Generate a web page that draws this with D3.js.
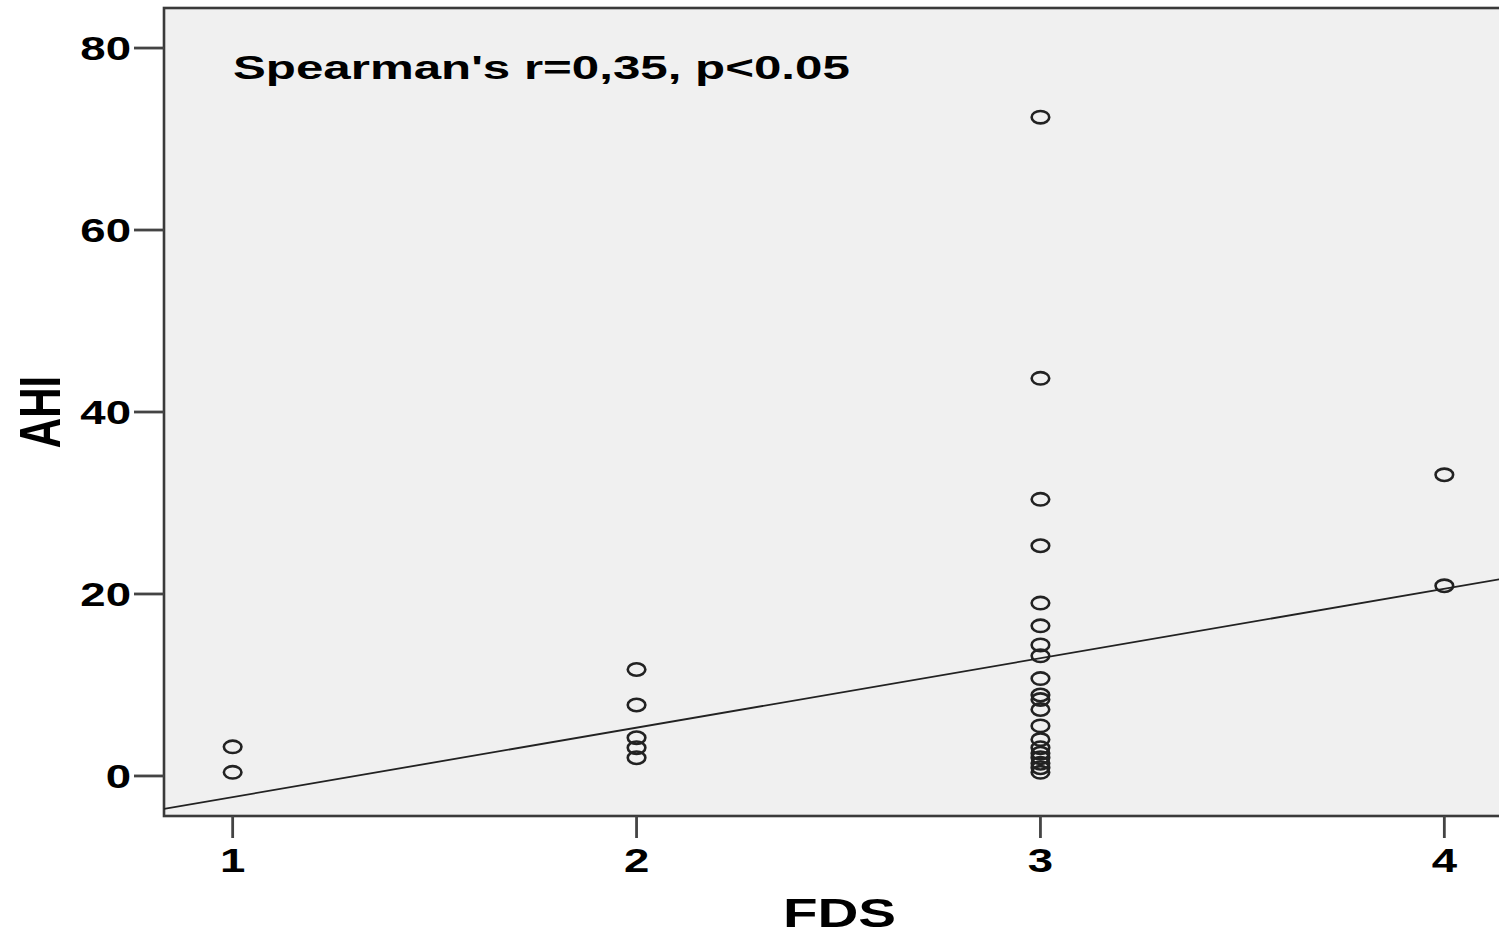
<!DOCTYPE html>
<html>
<head>
<meta charset="utf-8">
<script src="https://cdn.jsdelivr.net/npm/d3@7"></script>
<style>
  body { margin: 0; background: #fff; }
  svg text { font-family: "Liberation Sans", Arial, sans-serif; font-weight: bold; fill: #000; }
</style>
</head>
<body>
<div id="chart"></div>
<script>
// FDS group of each point and its AHI value
const fds = [1, 1,
  2, 2, 2, 2, 2,
  3, 3, 3, 3, 3, 3, 3, 3, 3, 3, 3, 3, 3, 3, 3, 3, 3, 3, 3, 3,
  4, 4];
const ahi = [3.2, 0.4,
  11.7, 7.8, 4.2, 3.1, 2.0,
  72.4, 43.7, 30.4, 25.3, 19.0, 16.5, 14.4, 13.2, 10.7, 8.9, 8.4, 7.3, 5.5, 4.0, 3.1, 2.5, 2.0, 1.4, 0.9, 0.4,
  33.1, 20.9];
const xTicks = [1, 2, 3, 4];
const yTicks = [0, 20, 40, 60, 80];
// fitted line, AHI = intercept + slope * FDS
const fitIntercept = -9.95;
const fitSlope = 7.63;
const annotation = "Spearman's r=0,35, p<0.05";

const width = 1499, height = 936;
const stretch = 1.38; // the picture is wider than tall

const svg = d3.select("#chart").append("svg")
  .attr("width", width)
  .attr("height", height);

const x = d3.scaleLinear().domain([0.83, 4.17]).range([164, 1513]);
const y = d3.scaleLinear().domain([-4.4, 84.4]).range([816, 8]);

const [x0, x1] = x.range();
const [yb, yt] = y.range();

svg.append("defs").append("clipPath").attr("id", "plot-clip")
  .append("rect").attr("x", x0).attr("y", yt).attr("width", x1 - x0).attr("height", yb - yt);

svg.append("rect")
  .attr("x", x0).attr("y", yt)
  .attr("width", x1 - x0).attr("height", yb - yt)
  .attr("fill", "#f0f0f0")
  .attr("stroke", "#3a3a3a")
  .attr("stroke-width", 2.6);

// ticks
svg.append("g").selectAll("line")
  .data(yTicks).enter().append("line")
  .attr("x1", x0 - 30).attr("x2", x0)
  .attr("y1", d => y(d)).attr("y2", d => y(d))
  .attr("stroke", "#444").attr("stroke-width", 2.8);

svg.append("g").selectAll("line")
  .data(xTicks).enter().append("line")
  .attr("x1", d => x(d)).attr("x2", d => x(d))
  .attr("y1", yb).attr("y2", yb + 22)
  .attr("stroke", "#444").attr("stroke-width", 2.8);

svg.append("g").selectAll("text")
  .data(yTicks).enter().append("text")
  .attr("transform", d => `translate(${x0 - 33},${y(d) + 12}) scale(${stretch},1)`)
  .attr("text-anchor", "end")
  .style("font-size", "33px")
  .text(d => d);

svg.append("g").selectAll("text")
  .data(xTicks).enter().append("text")
  .attr("transform", d => `translate(${x(d)},${yb + 56}) scale(${stretch},1)`)
  .attr("text-anchor", "middle")
  .style("font-size", "33px")
  .text(d => d);

// axis titles
svg.append("text")
  .attr("transform", `translate(${(x0 + 1499) / 2 + 8},${height - 9}) scale(${stretch},1)`)
  .attr("text-anchor", "middle")
  .style("font-size", "41px")
  .text("FDS");

svg.append("text")
  .attr("transform", `translate(60,${(yt + yb) / 2}) scale(${stretch},1) rotate(-90)`)
  .attr("text-anchor", "middle")
  .style("font-size", "42px")
  .text("AHI");

// annotation
svg.append("text")
  .attr("transform", `translate(233,79) scale(${stretch * 1.05},1)`)
  .style("font-size", "34px")
  .text(annotation);

// fit line
const plot = svg.append("g").attr("clip-path", "url(#plot-clip)");
const ends = x.domain();
plot.append("line")
  .attr("x1", x(ends[0])).attr("y1", y(fitIntercept + fitSlope * ends[0]))
  .attr("x2", x(ends[1])).attr("y2", y(fitIntercept + fitSlope * ends[1]))
  .attr("stroke", "#222").attr("stroke-width", 1.8);

// points
plot.selectAll("ellipse")
  .data(fds.map((f, i) => ({ f, v: ahi[i] })))
  .enter().append("ellipse")
  .attr("cx", d => x(d.f))
  .attr("cy", d => y(d.v))
  .attr("rx", 8.8)
  .attr("ry", 6.2)
  .attr("fill", "none")
  .attr("stroke", "#222")
  .attr("stroke-width", 2.6);
</script>
</body>
</html>
